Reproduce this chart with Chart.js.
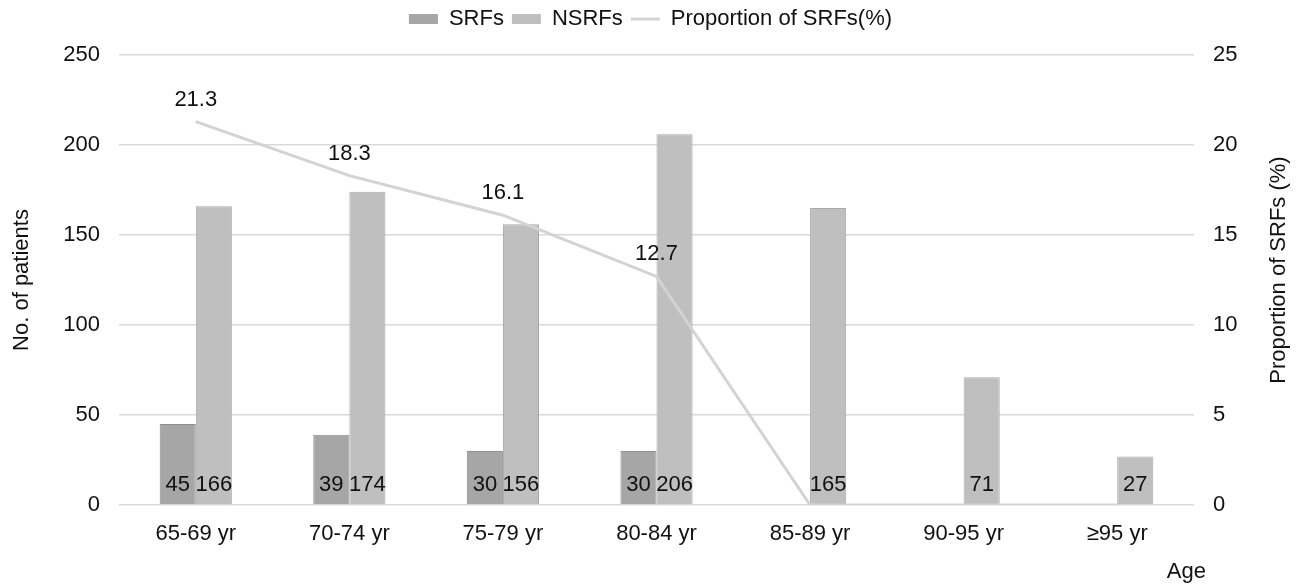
<!DOCTYPE html>
<html>
<head>
<meta charset="utf-8">
<script src="https://cdn.jsdelivr.net/npm/chart.js@4.4.1/dist/chart.umd.min.js"></script>
<style>
  html, body { margin: 0; padding: 0; background: #fff; }
  #wrap { position: relative; width: 1303px; height: 585px; }
</style>
</head>
<body>
<div id="wrap"><canvas id="chart"></canvas></div>
<script>
const ageGroups = ["65-69 yr", "70-74 yr", "75-79 yr", "80-84 yr", "85-89 yr", "90-95 yr", "\u226595 yr"];
const srfCounts = [45, 39, 30, 30, 0, 0, 0];
const nsrfCounts = [166, 174, 156, 206, 165, 71, 27];
const srfProportion = [21.3, 18.3, 16.1, 12.7, 0, 0, 0];
const patientTicks = [0, 50, 100, 150, 200, 250];
const percentTicks = [0, 5, 10, 15, 20, 25];
const rightTitle = "Proportion of SRFs (%)";
const xTitle = "Age";

const FONT = "'Liberation Sans', Arial, sans-serif";
const TEXT = "#111111";
const SIZE = 22;

// value labels + the two titles chart.js would place differently
const valueLabels = {
  id: "valueLabels",
  beforeLayout(chart) {
    // fixed legend band so the plot starts where the reference does
    const lg = chart.legend;
    if (lg && !lg._fixed) {
      const fit = lg.fit;
      lg.fit = function () { fit.call(this); this.height = 55; };
      lg._fixed = true;
    }
  },
  afterDatasetsDraw(chart) {
    const ctx = chart.ctx;
    ctx.save();
    ctx.font = SIZE + "px " + FONT;
    ctx.fillStyle = TEXT;
    ctx.textAlign = "center";
    ctx.textBaseline = "middle";
    chart.data.datasets.forEach((ds, i) => {
      const meta = chart.getDatasetMeta(i);
      meta.data.forEach((el, j) => {
        const v = ds.data[j];
        if (!v) return;
        if (ds.type === "line") {
          ctx.fillText(v.toFixed(1), el.x, el.y - 22);
        } else {
          ctx.fillText(String(v), el.x, el.base - 19);
        }
      });
    });
    ctx.restore();
  },
  afterDraw(chart) {
    const ctx = chart.ctx;
    const area = chart.chartArea;
    const y1 = chart.scales.y1;
    ctx.save();
    ctx.font = SIZE + "px " + FONT;
    ctx.fillStyle = TEXT;
    ctx.textBaseline = "middle";
    // right title reads bottom-to-top like the left one
    ctx.save();
    ctx.translate(y1.right - 17, (area.top + area.bottom) / 2 - 10);
    ctx.rotate(-Math.PI / 2);
    ctx.textAlign = "center";
    ctx.fillText(rightTitle, 0, 0);
    ctx.restore();
    // x title below the last tick, slightly past the plot edge
    ctx.textAlign = "right";
    ctx.fillText(xTitle, area.right + 12, chart.scales.x.bottom - 13);
    ctx.restore();
  }
};

const ctx = document.getElementById("chart").getContext("2d");
new Chart(ctx, {
  data: {
    labels: ageGroups,
    datasets: [
      {
        type: "bar",
        label: "SRFs",
        data: srfCounts,
        yAxisID: "y",
        backgroundColor: "#a6a6a6",
        borderColor: "#8f8f8f",
        borderWidth: 1,
        categoryPercentage: 0.47,
        barPercentage: 1.0,
        pointStyle: "rect",
        order: 1
      },
      {
        type: "bar",
        label: "NSRFs",
        data: nsrfCounts,
        yAxisID: "y",
        backgroundColor: "#bfbfbf",
        borderColor: "#a9a9a9",
        borderWidth: 1,
        categoryPercentage: 0.47,
        barPercentage: 1.0,
        pointStyle: "rect",
        order: 1
      },
      {
        type: "line",
        label: "Proportion of SRFs(%)",
        data: srfProportion,
        yAxisID: "y1",
        borderColor: "#d3d3d3",
        backgroundColor: "#d3d3d3",
        borderWidth: 3,
        pointRadius: 0,
        tension: 0,
        pointStyle: "line",
        order: 0
      }
    ]
  },
  options: {
    responsive: true,
    maintainAspectRatio: false,
    animation: false,
    layout: { padding: { left: 5, right: 7, top: 0, bottom: 0 } },
    plugins: {
      tooltip: { enabled: false },
      legend: {
        position: "top",
        labels: {
          font: { family: FONT, size: SIZE },
          color: TEXT,
          usePointStyle: true,
          pointStyleWidth: 29,
          boxHeight: 10,
          padding: 8,
          generateLabels(chart) {
            return chart.data.datasets.map((ds, i) => ({
              text: ds.label,
              fillStyle: ds.backgroundColor,
              strokeStyle: ds.type === "line" ? ds.borderColor : ds.backgroundColor,
              lineWidth: ds.type === "line" ? 3 : 0,
              pointStyle: ds.pointStyle,
              fontColor: TEXT,
              hidden: false,
              datasetIndex: i
            }));
          }
        }
      }
    },
    scales: {
      x: {
        grid: { display: false },
        border: { display: false },
        ticks: { font: { family: FONT, size: SIZE }, color: TEXT, padding: 8 },
        afterFit(s) { s.height = 80; }
      },
      y: {
        position: "left",
        min: 0,
        max: 250,
        afterBuildTicks(s) { s.ticks = patientTicks.map(v => ({ value: v })); },
        grid: { color: "#d9d9d9", lineWidth: 1.5, drawTicks: false },
        border: { display: false },
        ticks: { font: { family: FONT, size: SIZE }, color: TEXT, padding: 19 },
        title: {
          display: true,
          text: "No. of patients",
          font: { family: FONT, size: SIZE },
          color: TEXT
        },
        afterFit(s) { s.width = 114; }
      },
      y1: {
        position: "right",
        min: 0,
        max: 25,
        afterBuildTicks(s) { s.ticks = percentTicks.map(v => ({ value: v })); },
        grid: { display: false, drawTicks: false },
        border: { display: false },
        ticks: { font: { family: FONT, size: SIZE }, color: TEXT, padding: 19 },
        afterFit(s) { s.width = 102; }
      }
    }
  },
  plugins: [valueLabels]
});
</script>
</body>
</html>
